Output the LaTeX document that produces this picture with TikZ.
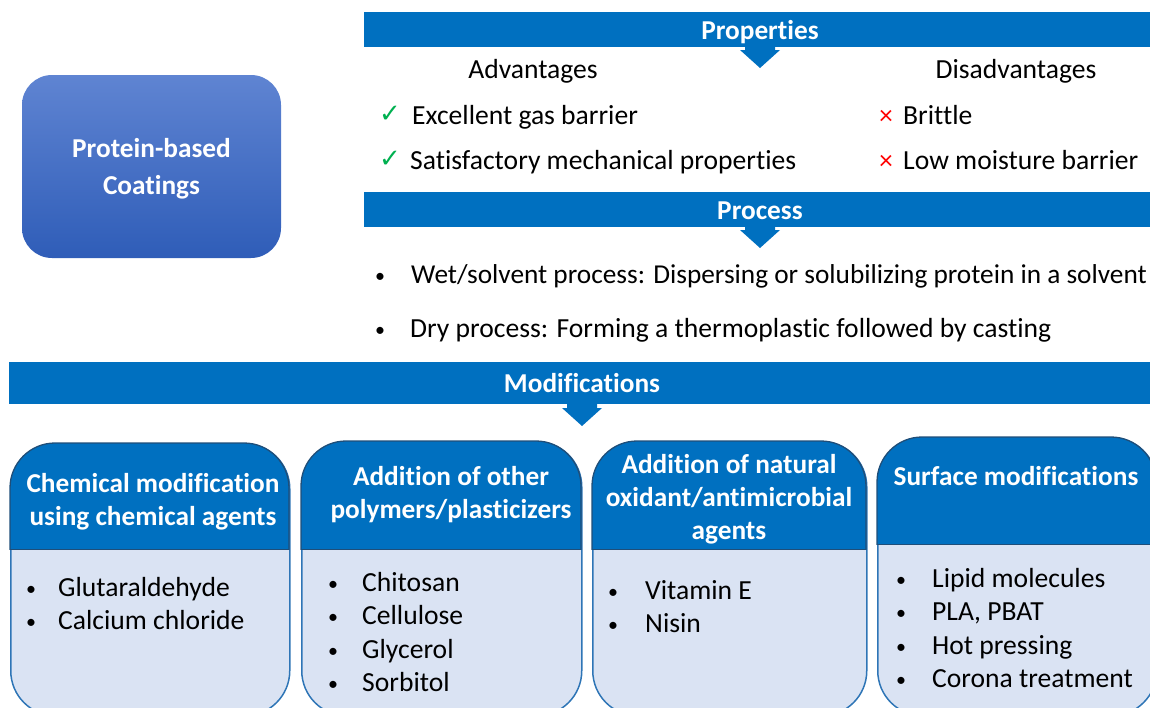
\documentclass[tikz,border=0pt]{standalone}
\usepackage{fontspec}
\setmainfont{Carlito}[Ligatures=NoCommon]
\newfontfamily\symfont{DejaVu Sans}
\definecolor{banblue}{HTML}{0070C0}
\definecolor{bodyblue}{HTML}{DAE3F3}
\definecolor{edgeblue}{HTML}{2E75B6}
\definecolor{navy}{HTML}{1F4E79}
\definecolor{protop}{HTML}{5F84D2}
\definecolor{probot}{HTML}{2F5DB8}
\definecolor{okgreen}{HTML}{00B050}
\definecolor{badred}{HTML}{FF0000}
\newcommand\ModHead[4]{% x1, x2, ytop, ydiv
  \begin{scope}
    \clip (#1-5,#3-5) rectangle (#2+5,#4);
    \path[draw=navy, line width=1.3pt, fill=banblue, rounded corners=45pt] (#1,#3) rectangle (#2,715);
  \end{scope}
  \draw[navy, line width=1pt] (#1,#4) -- (#2,#4);
}
\begin{document}
\begin{tikzpicture}[x=1pt,y=-1pt,
  txt/.style={inner sep=0pt, anchor=base west, font=\fontsize{27.6}{33}\selectfont, text=black},
  ctxt/.style={inner sep=0pt, anchor=base, font=\fontsize{27.6}{33}\selectfont, text=black},
  bul/.style={inner sep=0pt, anchor=base, font=\fontsize{20}{20}\selectfont, text=black},
  htxt/.style={inner sep=0pt, anchor=base, font=\bfseries\fontsize{27.3}{33}\selectfont, text=white},
  banner/.style={fill=banblue, draw=none, inner sep=0pt, anchor=north west},
  bodybox/.style={fill=bodyblue, draw=edgeblue, line width=1.5pt, rounded corners=45pt, inner sep=0pt, anchor=north west},
  probox/.style={rounded corners=30pt, top color=protop, bottom color=probot, draw=none, inner sep=0pt},
  chk/.style={inner sep=0pt, anchor=base, font=\symfont\fontsize{26}{26}\selectfont, text=okgreen},
  crs/.style={inner sep=0pt, anchor=base, font=\fontsize{27}{27}\selectfont, text=badred},
  downarrow/.style={fill=banblue, draw=none}
]
\useasboundingbox (0,0) rectangle (1150,707);
\clip (0,0) rectangle (1150,707);

% Protein-based coatings
\node[probox, minimum width=259pt, minimum height=183pt] (coat) at (151.5,166.5) {};
\node[htxt] (coat1) at (151.5,157.5) {Protein-based};
\node[htxt] (coat2) at (151.5,194.5) {Coatings};

% Properties
\node[banner, minimum width=800pt, minimum height=35pt] (propbar) at (364,12) {};
\node[htxt] (proplbl) at (760,39) {Properties};
\fill[downarrow] (745,46) -- (775,46) -- (775,50) -- (780,50) -- (760,68) -- (740,50) -- (745,50) -- cycle;
\node[ctxt] (adv) at (533,78.5) {Advantages};
\node[ctxt] (dis) at (1016,78.5) {Disadvantages};
\node[chk] (chk1) at (390,122) {✓};
\node[txt] (adv1) at (412,124) {Excellent gas barrier};
\node[chk] (chk2) at (390,167) {✓};
\node[txt] (adv2) at (410,169) {Satisfactory mechanical properties};
\node[crs] (x1) at (886,124) {×};
\node[txt] (dis1) at (903,124) {Brittle};
\node[crs] (x2) at (886,169) {×};
\node[txt] (dis2) at (903,169) {Low moisture barrier};

% Process
\node[banner, minimum width=800pt, minimum height=35pt] (procbar) at (364,192) {};
\node[htxt] (proclbl) at (760,219) {Process};
\fill[downarrow] (745,226) -- (775,226) -- (775,230) -- (780,230) -- (760,248) -- (740,230) -- (745,230) -- cycle;
\node[bul] (pb1) at (380,282) {•};
\node[txt, font=\fontsize{27.3}{33}\selectfont] (p1) at (411,283.5) {Wet/solvent process: Dispersing or solubilizing protein in a solvent};
\node[bul] (pb2) at (380,336) {•};
\node[txt] (p2) at (410,337.5) {Dry process: Forming a thermoplastic followed by casting};

% Modifications
\node[banner, minimum width=1150pt, minimum height=42pt] (modbar) at (9,362) {};
\node[htxt] (modlbl) at (582,392) {Modifications};
\fill[downarrow] (567,403) -- (597,403) -- (597,408) -- (602,408) -- (582,426) -- (562,408) -- (567,408) -- cycle;

% Box 1
\node[bodybox, minimum width=279pt, minimum height=272pt] (b1) at (10,443) {};
\ModHead{10}{289}{443}{549}
\node[htxt] (h1a) at (153,492.5) {Chemical modification};
\node[htxt] (h1b) at (153,525.5) {using chemical agents};
\node[bul] (b1d1) at (31,595) {•};
\node[txt] (b1t1) at (58,596.5) {Glutaraldehyde};
\node[bul] (b1d2) at (31,628) {•};
\node[txt] (b1t2) at (58,629.5) {Calcium chloride};

% Box 2
\node[bodybox, minimum width=280pt, minimum height=274pt] (b2) at (301,441) {};
\ModHead{301}{581}{441}{549}
\node[htxt] (h2a) at (451,485.5) {Addition of other};
\node[htxt] (h2b) at (451,518.5) {polymers/plasticizers};
\node[bul] (b2d1) at (333,590) {•};
\node[txt] (b2t1) at (362,591.5) {Chitosan};
\node[bul] (b2d2) at (333,623) {•};
\node[txt] (b2t2) at (362,624.5) {Cellulose};
\node[bul] (b2d3) at (333,657) {•};
\node[txt] (b2t3) at (362,658.5) {Glycerol};
\node[bul] (b2d4) at (333,690) {•};
\node[txt] (b2t4) at (362,691.5) {Sorbitol};

% Box 3
\node[bodybox, minimum width=274pt, minimum height=274pt] (b3) at (592,441) {};
\ModHead{592}{866}{441}{549}
\node[htxt] (h3a) at (729,473.5) {Addition of natural};
\node[htxt] (h3b) at (729,506.5) {oxidant/antimicrobial};
\node[htxt] (h3c) at (729,539.5) {agents};
\node[bul] (b3d1) at (613,598) {•};
\node[txt] (b3t1) at (645,599.5) {Vitamin E};
\node[bul] (b3d2) at (613,631) {•};
\node[txt] (b3t2) at (645,632.5) {Nisin};

% Box 4
\node[bodybox, minimum width=279pt, minimum height=278pt] (b4) at (877,437) {};
\ModHead{877}{1156}{437}{544}
\node[htxt] (h4a) at (1016,485.5) {Surface modifications};
\node[bul] (b4d1) at (901,586) {•};
\node[txt] (b4t1) at (932,587.5) {Lipid molecules};
\node[bul] (b4d2) at (901,619) {•};
\node[txt] (b4t2) at (932,620.5) {PLA, PBAT};
\node[bul] (b4d3) at (901,653) {•};
\node[txt] (b4t3) at (932,654.5) {Hot pressing};
\node[bul] (b4d4) at (901,686) {•};
\node[txt] (b4t4) at (932,687.5) {Corona treatment};
\end{tikzpicture}
\end{document}
